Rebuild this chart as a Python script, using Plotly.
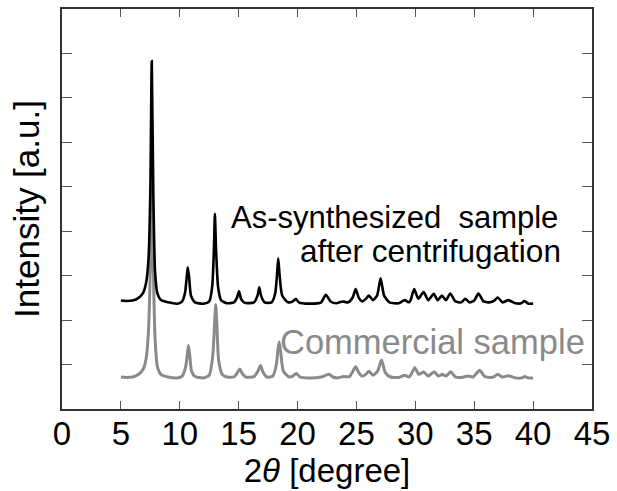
import plotly.graph_objects as go

# 2theta (degree) and intensity (a.u.)
two_theta_synth = [5.0, 5.5, 6.0, 6.5, 6.9, 7.15, 7.35, 7.5, 7.62, 7.75, 7.9, 8.1, 8.4, 9.0, 9.8,
                   10.2, 10.45, 10.6, 10.68, 10.8, 10.95, 11.3, 12.0, 12.5, 12.75, 12.9, 12.98, 13.08,
                   13.25, 13.5, 14.0, 14.6, 14.85, 15.03, 15.2, 15.5, 16.3, 16.6, 16.75, 16.9, 17.2,
                   17.8, 18.1, 18.25, 18.36, 18.48, 18.7, 19.2, 19.6, 19.85, 20.1, 21.0, 22.0, 22.4,
                   22.8, 23.3, 23.8, 24.3, 24.7, 24.93, 25.2, 25.5, 25.8, 26.06, 26.4, 26.75, 27.05,
                   27.35, 27.8, 28.6, 29.1, 29.45, 29.6, 29.9, 30.25, 30.7, 31.1, 31.56, 31.9, 32.26,
                   32.6, 32.97, 33.4, 33.9, 34.24, 34.6, 35.0, 35.36, 35.8, 36.35, 36.7, 37.0, 37.4,
                   37.9, 38.5, 39.0, 39.26, 39.6, 40.0]
intensity_synth = [2.44, 2.43, 2.44, 2.50, 2.62, 2.85, 3.4, 4.9, 7.83, 4.9, 3.1, 2.6, 2.45, 2.40, 2.37,
                   2.42, 2.62, 3.0, 3.19, 2.95, 2.55, 2.40, 2.37, 2.42, 2.75, 3.6, 4.39, 3.6,
                   2.75, 2.45, 2.38, 2.40, 2.50, 2.65, 2.48, 2.39, 2.40, 2.55, 2.74, 2.55, 2.40,
                   2.40, 2.6, 3.0, 3.39, 3.0, 2.55, 2.40, 2.42, 2.48, 2.40, 2.37, 2.40, 2.57,
                   2.42, 2.38, 2.42, 2.40, 2.52, 2.70, 2.50, 2.42, 2.48, 2.55, 2.45, 2.55, 2.94,
                   2.55, 2.40, 2.38, 2.45, 2.40, 2.45, 2.70, 2.48, 2.63, 2.45, 2.59, 2.45, 2.55,
                   2.45, 2.60, 2.42, 2.40, 2.48, 2.40, 2.44, 2.60, 2.42, 2.40, 2.44, 2.51, 2.40,
                   2.45, 2.38, 2.38, 2.43, 2.37, 2.37]

two_theta_comm = [5.0, 5.5, 6.0, 6.5, 6.9, 7.15, 7.35, 7.5, 7.62, 7.75, 7.9, 8.1, 8.4, 9.0, 9.8,
                  10.2, 10.5, 10.65, 10.74, 10.85, 11.0, 11.3, 12.0, 12.5, 12.8, 12.95, 13.05, 13.15,
                  13.3, 13.6, 14.0, 14.6, 14.9, 15.1, 15.3, 15.6, 16.3, 16.65, 16.86, 17.05, 17.4,
                  17.9, 18.2, 18.34, 18.44, 18.56, 18.8, 19.3, 19.6, 19.9, 20.2, 21.0, 22.0, 22.67,
                  23.0, 23.4, 23.9, 24.4, 24.7, 24.93, 25.2, 25.5, 25.8, 26.06, 26.4, 26.8, 27.13,
                  27.45, 27.9, 28.6, 29.1, 29.45, 29.65, 29.95, 30.3, 30.7, 31.1, 31.6, 31.95, 32.3,
                  32.6, 33.0, 33.4, 33.9, 34.5, 34.9, 35.45, 35.9, 36.4, 36.7, 37.0, 37.4, 37.9,
                  38.5, 39.0, 39.3, 39.6, 40.0]
intensity_comm = [0.72, 0.71, 0.72, 0.78, 0.9, 1.15, 1.8, 3.2, 5.0, 3.2, 1.6, 0.95, 0.78, 0.72, 0.70,
                  0.74, 0.95, 1.25, 1.43, 1.2, 0.85, 0.73, 0.70, 0.76, 1.2, 1.9, 2.35, 1.9,
                  1.1, 0.78, 0.72, 0.72, 0.82, 0.90, 0.80, 0.72, 0.73, 0.86, 0.98, 0.84, 0.72,
                  0.74, 1.0, 1.35, 1.51, 1.3, 0.85, 0.72, 0.74, 0.80, 0.72, 0.70, 0.72, 0.78,
                  0.72, 0.70, 0.73, 0.73, 0.85, 0.95, 0.82, 0.74, 0.78, 0.85, 0.76, 0.85, 1.10,
                  0.82, 0.72, 0.71, 0.76, 0.72, 0.78, 0.93, 0.78, 0.83, 0.74, 0.84, 0.74, 0.78,
                  0.74, 0.84, 0.72, 0.71, 0.74, 0.72, 0.87, 0.73, 0.71, 0.73, 0.78, 0.72, 0.75,
                  0.70, 0.70, 0.73, 0.70, 0.70]

x_ticks = [0, 5, 10, 15, 20, 25, 30, 35, 40, 45]
y_ticks = [0, 1, 2, 3, 4, 5, 6, 7, 8, 9]

label_synth = ["As-synthesized\u00a0\u00a0sample", "after centrifugation"]
label_comm = "Commercial sample"

FONT = "Liberation Sans, Arial, sans-serif"
BLACK = "#000000"
GRAY = "#8a8a8a"

fig = go.Figure()
fig.add_trace(go.Scatter(x=two_theta_comm, y=intensity_comm, mode="lines",
                         line=dict(color=GRAY, width=3, shape="spline", smoothing=0.6),
                         showlegend=False))
fig.add_trace(go.Scatter(x=two_theta_synth, y=intensity_synth, mode="lines",
                         line=dict(color=BLACK, width=2.6, shape="spline", smoothing=0.6),
                         showlegend=False))

fig.add_annotation(x=42.3, y=4.32, text=label_synth[0], showarrow=False, xanchor="right",
                   yanchor="middle", font=dict(family=FONT, size=31, color=BLACK))
fig.add_annotation(x=42.55, y=3.55, text=label_synth[1], showarrow=False, xanchor="right",
                   yanchor="middle", font=dict(family=FONT, size=31.5, color=BLACK))
fig.add_annotation(x=44.6, y=1.5, text=label_comm, showarrow=False, xanchor="right",
                   yanchor="middle", font=dict(family=FONT, size=34.5, color=GRAY))

fig.update_layout(
    width=617, height=491,
    margin=dict(l=62, r=23, t=7, b=82),
    paper_bgcolor="white", plot_bgcolor="white",
    font=dict(family=FONT, color="black"),
    xaxis=dict(range=[0, 45], tickvals=x_ticks, ticktext=[str(v) for v in x_ticks],
               ticks="inside", ticklen=8, tickwidth=1.2, tickcolor="#555",
               showline=True, linecolor="#333", linewidth=1.5, mirror="ticks",
               showgrid=False, zeroline=False, ticklabelstandoff=-5,
               tickfont=dict(family=FONT, size=33, color="black"),
               title=dict(text="2<i>θ</i> [degree]", font=dict(family=FONT, size=33, color="black"),
                          standoff=2)),
    yaxis=dict(range=[0, 9], tickvals=y_ticks, showticklabels=False,
               ticks="inside", ticklen=10, tickwidth=1.2, tickcolor="#555",
               showline=True, linecolor="#333", linewidth=1.5, mirror="ticks",
               showgrid=False, zeroline=False,
               title=dict(text="Intensity [a.u.]", font=dict(family=FONT, size=35, color="black"),
                          standoff=10)),
)

fig.write_html("out.html")
